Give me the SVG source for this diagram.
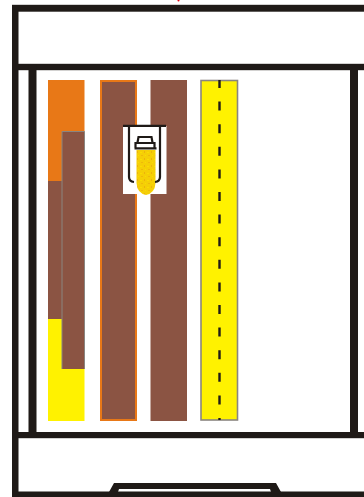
<svg xmlns="http://www.w3.org/2000/svg" width="364" height="497" viewBox="0 0 364 497">
<style>
.k{fill:#1f1a17}
.br{fill:#8b5443}
.ln{fill:none;stroke:#1f1a17}
</style>
<defs>
<pattern id="speck" width="7" height="7" patternUnits="userSpaceOnUse">
<rect width="7" height="7" fill="#f5cf06"/>
<rect x="1" y="1" width="2" height="1" fill="#efb90a"/>
<rect x="4" y="4" width="1" height="2" fill="#eeb20c"/>
<rect x="0" y="5" width="2" height="1" fill="#fbdc00"/>
<rect x="5" y="1" width="1" height="1" fill="#fbdc00"/>
</pattern>
</defs>
<rect width="364" height="497" fill="#fff"/>
<g id="frame">
<rect class="k" x="12" y="4.800" width="352" height="6.900"/>
<rect class="k" x="12" y="63.800" width="352" height="6.400"/>
<rect class="k" x="12" y="432" width="352" height="6.200"/>
<rect class="k" x="12" y="491.500" width="352" height="5.500"/>
<rect class="k" x="12" y="5" width="6.500" height="492"/>
<rect class="k" x="28.500" y="64" width="8" height="374"/>
<rect class="k" x="350" y="64" width="8" height="374"/>
<path class="k" d="M109 492L114 483H276L281 492H271L270 489H119L118 492Z"/>
</g>
<g id="column1">
<rect x="48" y="80" width="36.500" height="102" fill="#e87817"/>
<rect class="br" x="48" y="181" width="14" height="138.500"/>
<rect x="48" y="319" width="36.500" height="102" fill="#fff200"/>
<rect class="br" x="62" y="131.500" width="22.500" height="237.500"/>
<path d="M62 369V131.500H84.500V369" fill="none" stroke="#8a8580" stroke-width="1"/>
</g>
<g id="column2"><rect class="br" x="101" y="81" width="35" height="339" stroke="#e87817" stroke-width="2"/></g>
<g id="column3"><rect class="br" x="150.500" y="80" width="36.500" height="341"/></g>
<g id="column4">
<rect x="201" y="80.500" width="36.500" height="339.500" fill="#fff200" stroke="#8a8580" stroke-width="1.600"/>
<line x1="219.500" y1="80" x2="219.500" y2="420" stroke="#1f1a17" stroke-width="2.400" stroke-dasharray="9 13.600" stroke-dashoffset="1"/>
</g>
<g id="holder">
<rect x="123" y="126" width="43.500" height="68" fill="#fff"/>
<path d="M136.500 150H155.500V183Q155 193 146 195Q137 193 136.500 183Z" fill="url(#speck)"/>
<path class="ln" stroke-width="2.200" d="M123 125.800H166M129 126V177Q129 181.500 134 182M160 126V177Q160 181.500 155 182"/>
<path class="ln" stroke-width="2.200" d="M137.500 142.500L138.500 137H151.500L152.500 142.500M135.500 148V143H154.500V148M134.500 148.300H156.500"/>
</g>
<circle id="mark" cx="178.500" cy="0.500" r="1" fill="#e8000e"/>
</svg>
